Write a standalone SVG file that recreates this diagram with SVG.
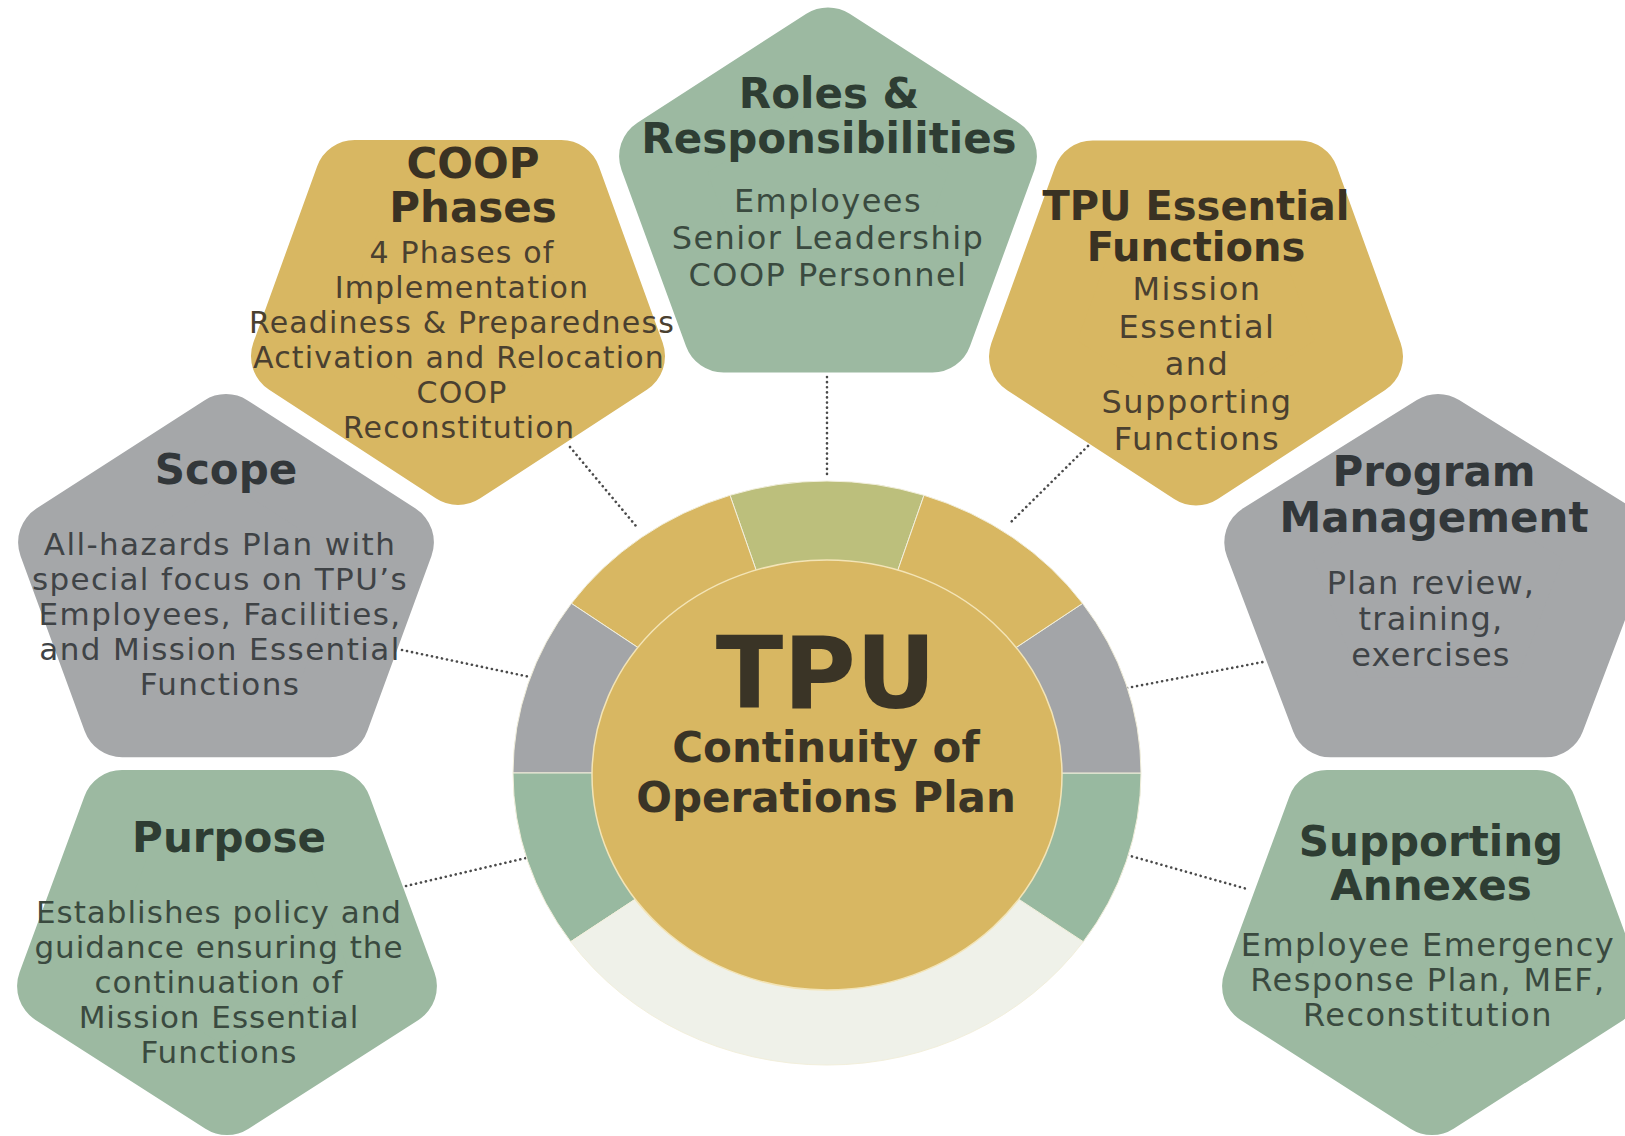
<svg xmlns="http://www.w3.org/2000/svg" width="1625" height="1136" viewBox="0 0 1625 1136">
  <style>
    .pent { stroke-width: 80; stroke-linejoin: round; }
    .green { fill: #9cb9a1; stroke: #9cb9a1; }
    .yellow { fill: #d8b762; stroke: #d8b762; }
    .gray { fill: #a5a7a9; stroke: #a5a7a9; }
    .title { font-family: "DejaVu Sans", "Liberation Sans", sans-serif; font-weight: bold; font-size: 42px; text-anchor: middle; }
    .body { font-family: "DejaVu Sans", "Liberation Sans", sans-serif; font-size: 31px; text-anchor: middle; }
    .g-t { fill: #2e3d33; } .g-b { fill: #3a4a3f; }
    .y-t { fill: #3a3223; } .y-b { fill: #4a4030; }
    .s-t { fill: #32373a; } .s-b { fill: #3f4346; }
    .conn { fill: none; stroke: #4a4a4a; stroke-width: 2.6; stroke-linecap: round; stroke-dasharray: 0.1 5; }
    .wedge { stroke: #f2efdc; stroke-width: 1; }
    .center { font-family: "DejaVu Sans", "Liberation Sans", sans-serif; font-weight: bold; text-anchor: middle; fill: #3a3426; }
  </style>
  <rect width="1625" height="1136" fill="#ffffff"/>

  <g id="connectors">
    <line class="conn" x1="827" y1="377" x2="827" y2="476"/>
    <line class="conn" x1="570" y1="447" x2="636" y2="526"/>
    <line class="conn" x1="1088" y1="446" x2="1011" y2="522"/>
    <line class="conn" x1="402" y1="650" x2="530" y2="677"/>
    <line class="conn" x1="1127" y1="688" x2="1263" y2="662"/>
    <line class="conn" x1="406" y1="886" x2="526" y2="858"/>
    <line class="conn" x1="1127" y1="855" x2="1247" y2="889"/>
  </g>

  <g id="hub">
    <path class="wedge" fill="#bcbf7c" d="M827,773 L924,495.3 A314,292 0 0 0 730,495.3 Z"/>
    <path class="wedge" fill="#d8b762" d="M827,773 L730,495.3 A314,292 0 0 0 571.4,603.4 Z"/>
    <path class="wedge" fill="#a3a5a8" d="M827,773 L571.4,603.4 A314,292 0 0 0 513,773 Z"/>
    <path class="wedge" fill="#98b9a0" d="M827,773 L513,773 A314,292 0 0 0 570.7,941.7 Z"/>
    <path class="wedge" fill="#eff1e9" d="M827,773 L570.7,941.7 A314,292 0 0 0 1083.3,941.7 Z"/>
    <path class="wedge" fill="#98b9a0" d="M827,773 L1083.3,941.7 A314,292 0 0 0 1141,773 Z"/>
    <path class="wedge" fill="#a3a5a8" d="M827,773 L1141,773 A314,292 0 0 0 1082.6,603.4 Z"/>
    <path class="wedge" fill="#d8b762" d="M827,773 L1082.6,603.4 A314,292 0 0 0 924,495.3 Z"/>
    <ellipse cx="827" cy="775" rx="235" ry="215" fill="#d8b762" stroke="#f3e4b6" stroke-width="1.5"/>
    <text class="center" x="826" y="708" font-size="99">TPU</text>
    <text class="center" x="826" y="762" font-size="42">Continuity of</text>
    <text class="center" x="826" y="812" font-size="42">Operations Plan</text>
  </g>

  <g id="roles">
    <polygon class="pent green" points="828,47.4 996.9,156.3 932.4,332.5 723.6,332.5 659.1,156.3"/>
    <text class="title g-t" x="829" y="108">Roles &amp;</text>
    <text class="title g-t" x="829" y="153">Responsibilities</text>
    <g class="body g-b" style="font-size:32px;letter-spacing:1.45px">
      <text x="828" y="212">Employees</text>
      <text x="828" y="249">Senior Leadership</text>
      <text x="828" y="286">COOP Personnel</text>
    </g>
  </g>

  <g id="coop-phases">
    <polygon class="pent yellow" points="458,465.1 291,356.2 354.7,180 561.3,180 625,356.2"/>
    <text class="title y-t" x="473" y="178">COOP</text>
    <text class="title y-t" x="473" y="222">Phases</text>
    <g class="body y-b" style="font-size:30px;letter-spacing:1.17px">
      <text x="462" y="263">4 Phases of</text>
      <text x="462" y="298">Implementation</text>
      <text x="462" y="333">Readiness &amp; Preparedness</text>
      <text x="459" y="368">Activation and Relocation</text>
      <text x="462" y="403">COOP</text>
      <text x="459" y="438">Reconstitution</text>
    </g>
  </g>

  <g id="tpu-essential-functions">
    <polygon class="pent yellow" points="1196,465.6 1029,356.7 1092.7,180.5 1299.3,180.5 1363,356.7"/>
    <text class="title y-t" x="1196" y="220" style="font-size:40px">TPU Essential</text>
    <text class="title y-t" x="1196" y="261" style="font-size:40px">Functions</text>
    <g class="body y-b" style="font-size:32px;letter-spacing:1.5px">
      <text x="1197" y="300">Mission</text>
      <text x="1197" y="337.5">Essential</text>
      <text x="1197" y="375">and</text>
      <text x="1197" y="412.5">Supporting</text>
      <text x="1197" y="450">Functions</text>
    </g>
  </g>

  <g id="scope">
    <polygon class="pent gray" points="226,434 393.9,542.2 329.8,717.3 122.2,717.3 58.1,542.2"/>
    <text class="title s-t" x="226" y="484">Scope</text>
    <g class="body s-b" style="font-size:31px;letter-spacing:1.4px">
      <text x="220" y="555">All-hazards Plan with</text>
      <text x="220" y="590">special focus on TPU’s</text>
      <text x="220" y="625">Employees, Facilities,</text>
      <text x="220" y="660">and Mission Essential</text>
      <text x="220" y="695">Functions</text>
    </g>
  </g>

  <g id="program-management">
    <polygon class="pent gray" points="1438,434 1611.7,542.2 1545.4,717.3 1330.6,717.3 1264.3,542.2"/>
    <text class="title s-t" x="1434" y="486">Program</text>
    <text class="title s-t" x="1434" y="532">Management</text>
    <g class="body s-b" style="font-size:32px;letter-spacing:1.18px">
      <text x="1431" y="594">Plan review,</text>
      <text x="1431" y="630">training,</text>
      <text x="1431" y="666">exercises</text>
    </g>
  </g>

  <g id="purpose">
    <polygon class="pent green" points="227,1095.1 57.1,986.2 122,810 332,810 396.9,986.2"/>
    <text class="title g-t" x="229" y="852">Purpose</text>
    <g class="body g-b" style="font-size:31px;letter-spacing:1px">
      <text x="219" y="923">Establishes policy and</text>
      <text x="219" y="958">guidance ensuring the</text>
      <text x="219" y="993">continuation of</text>
      <text x="219" y="1028">Mission Essential</text>
      <text x="219" y="1063">Functions</text>
    </g>
  </g>

  <g id="supporting-annexes">
    <polygon class="pent green" points="1432,1095.1 1262.1,986.2 1327,810 1537,810 1601.9,986.2"/>
    <text class="title g-t" x="1431" y="856">Supporting</text>
    <text class="title g-t" x="1431" y="900">Annexes</text>
    <g class="body g-b" style="font-size:32px;letter-spacing:1.4px">
      <text x="1428" y="956">Employee Emergency</text>
      <text x="1428" y="991">Response Plan, MEF,</text>
      <text x="1428" y="1026">Reconstitution</text>
    </g>
  </g>
</svg>
